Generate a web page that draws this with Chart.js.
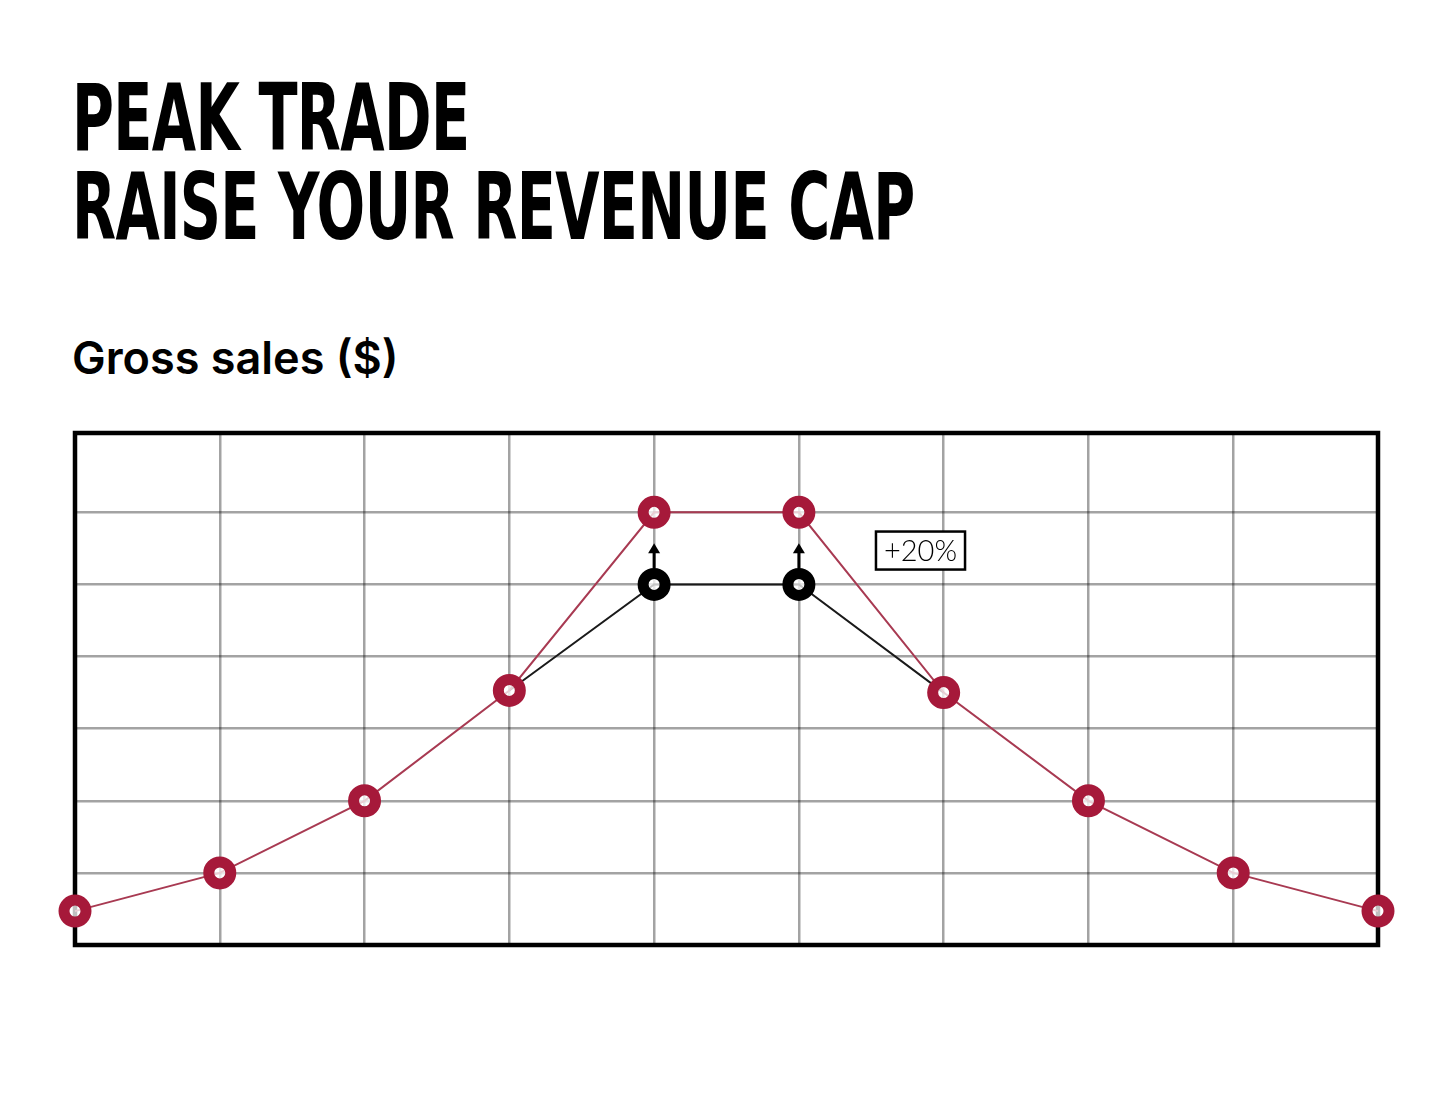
<!DOCTYPE html>
<html>
<head>
<meta charset="utf-8">
<script src="https://cdn.jsdelivr.net/npm/chart.js@4.4.1/dist/chart.umd.min.js"></script>
<style>
	html, body { margin: 0; padding: 0; background: #fff; }
	body { width: 1440px; height: 1120px; position: relative; overflow: hidden; }
	.title {
		position: absolute; left: 72px; top: 74px; margin: 0;
		font-family: 'DejaVu Sans Condensed', 'DejaVu Sans', sans-serif; font-weight: 700;
		font-size: 93px; line-height: 89px; color: #000; letter-spacing: -1px;
		transform: scaleX(0.685); transform-origin: left top; white-space: nowrap;
	}
	.subtitle {
		position: absolute; left: 72px; top: 330px; margin: 0;
		font-family: Inter, 'Noto Sans', sans-serif; font-weight: 600;
		font-size: 45px; color: #000; letter-spacing: 0;
	}
	.wrap { position: absolute; left: 53px; top: 411px; width: 1347px; height: 556px; }
</style>
</head>
<body>
<h1 class="title">PEAK TRADE<br>RAISE YOUR REVENUE CAP</h1>
<div class="subtitle">Gross sales ($)</div>
<div class="wrap"><canvas id="sales-chart"></canvas></div>
<script>
const periods = [0, 1, 2, 3, 4, 5, 6, 7, 8, 9]
const raisedSales = [0.47, 1, 2, 3.53, 6, 6, 3.5, 2, 1, 0.47]
const baseSales = [null, null, null, 3.53, 5, 5, 3.5, null, null, null]
const baseMarkers = [0, 0, 0, 0, 11, 11, 0, 0, 0, 0]
const gridValues = [1, 2, 3, 4, 5, 6]
const arrowPeriods = [4, 5]
const arrowTop = 5.57
const liftLabel = '+20%'
const liftLabelAt = { x: 5.84, y: 5.47 }

const red = '#a6193a'

const chartFrame = {
	id: 'chartFrame',
	beforeDatasetsDraw: (chart) => {
		const { ctx, chartArea: a } = chart
		ctx.save()
		ctx.strokeStyle = '#000'
		ctx.lineWidth = 4.5
		ctx.strokeRect(a.left, a.top, a.right - a.left, a.bottom - a.top)
		ctx.restore()
	},
	afterDatasetsDraw: (chart) => {
		const { ctx, scales: { x, y } } = chart
		ctx.save()
		ctx.strokeStyle = '#000'
		ctx.fillStyle = '#000'
		ctx.lineWidth = 3
		arrowPeriods.forEach((p) => {
			const px = x.getPixelForValue(p)
			const from = y.getPixelForValue(baseSales[p]) - 16
			const tip = y.getPixelForValue(arrowTop)
			ctx.beginPath()
			ctx.moveTo(px, from)
			ctx.lineTo(px, tip + 8)
			ctx.stroke()
			ctx.beginPath()
			ctx.moveTo(px, tip)
			ctx.lineTo(px - 6, tip + 10)
			ctx.lineTo(px + 6, tip + 10)
			ctx.closePath()
			ctx.fill()
		})
		const lx = x.getPixelForValue(liftLabelAt.x)
		const ly = y.getPixelForValue(liftLabelAt.y)
		ctx.font = '300 29px Lato, "Open Sans", sans-serif'
		ctx.textAlign = 'center'
		ctx.textBaseline = 'middle'
		const w = ctx.measureText(liftLabel).width + 16
		ctx.fillStyle = '#fff'
		ctx.fillRect(lx - w / 2, ly - 19, w, 38)
		ctx.lineWidth = 2.5
		ctx.strokeRect(lx - w / 2, ly - 19, w, 38)
		ctx.fillStyle = '#000'
		ctx.fillText(liftLabel, lx, ly + 1)
		ctx.restore()
	}
}

new Chart('sales-chart', {
	type: 'line',
	data: {
		labels: periods,
		datasets: [
			{
				label: 'Raised',
				data: raisedSales,
				order: 0,
				borderColor: '#a83a52',
				borderWidth: 2,
				pointRadius: 11,
				pointBorderWidth: 11,
				pointBorderColor: red,
				pointBackgroundColor: 'rgba(255,255,255,0.75)',
				tension: 0,
				clip: false
			},
			{
				label: 'Base',
				data: baseSales,
				order: 1,
				borderColor: '#1a1a1a',
				borderWidth: 2,
				pointRadius: baseMarkers,
				pointBorderWidth: 11,
				pointBorderColor: '#000',
				pointBackgroundColor: 'rgba(255,255,255,0.75)',
				tension: 0,
				clip: false
			}
		]
	},
	options: {
		responsive: true,
		maintainAspectRatio: false,
		animation: false,
		layout: { padding: 20 },
		plugins: { legend: { display: false }, tooltip: { enabled: false } },
		scales: {
			x: {
				type: 'linear',
				min: 0,
				max: 9,
				afterBuildTicks: (s) => { s.ticks = periods.map((v) => ({ value: v })) },
				ticks: { display: false },
				border: { display: false },
				grid: { color: 'rgba(0,0,0,0.36)', lineWidth: 2.5, drawTicks: false }
			},
			y: {
				min: 0,
				max: 7.1,
				afterBuildTicks: (s) => { s.ticks = gridValues.map((v) => ({ value: v })) },
				ticks: { display: false },
				border: { display: false },
				grid: { color: 'rgba(0,0,0,0.36)', lineWidth: 2.5, drawTicks: false }
			}
		}
	},
	plugins: [chartFrame]
})
</script>
</body>
</html>
